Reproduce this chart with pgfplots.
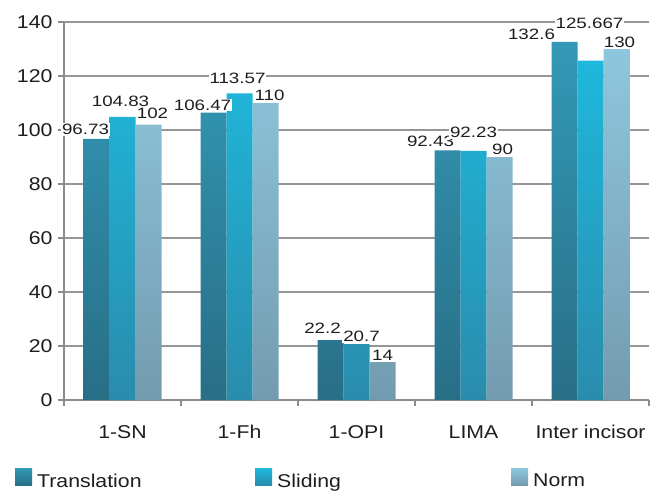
\documentclass[border=0pt]{standalone}
\usepackage{fontspec}
\setmainfont{Liberation Sans}[FakeStretch=1.15]
\newfontfamily\lblfont{Liberation Sans}[FakeStretch=1.25]
\usepackage{pgfplots}
\pgfplotsset{compat=1.18}
\usepackage{pgfplotstable}
\definecolor{tTop}{RGB}{51,153,182}
\definecolor{tBot}{RGB}{40,110,135}
\definecolor{sTop}{RGB}{30,184,220}
\definecolor{sBot}{RGB}{42,140,172}
\definecolor{nTop}{RGB}{142,199,221}
\definecolor{nBot}{RGB}{115,155,175}
\definecolor{axgray}{RGB}{140,140,140}
\definecolor{gridgray}{RGB}{150,150,150}
\definecolor{txt}{RGB}{30,30,30}

\pgfplotstableread{
x y lbl dx dy
0.5 96.73 96.73 -11 3
1.5 106.47 106.47 -11 1
2.5 22.2 22.2 -8 6
3.5 92.43 92.43 -17 3
4.5 132.6 132.6 -33 1
}\transl
\pgfplotstableread{
x y lbl dx dy
0.5 104.83 104.83 -2 9
1.5 113.57 113.57 -2 9
2.5 20.7 20.7 5 1
3.5 92.23 92.23 0 12
4.5 125.667 125.667 -1 31
}\sliding
\pgfplotstableread{
x y lbl dx dy
0.5 102 102 4 5
1.5 110 110 4 1
2.5 14 14 0 1
3.5 90 90 3 1
4.5 130 130 3 0
}\norm

\begin{document}
\begin{tikzpicture}
\useasboundingbox (0,0) rectangle (652pt,491pt);
\begin{axis}[
  at={(64pt,91pt)}, anchor=south west,
  scale only axis, width=585pt, height=378pt,
  xmin=0, xmax=5, ymin=0, ymax=140,
  ybar=0pt, bar width=26pt,
  axis lines*=left,
  axis line style={axgray, line width=1.4pt},
  xtick={0,1,2,3,4,5},
  x tick label as interval,
  xticklabels={1-SN,1-Fh,1-OPI,LIMA,Inter incisor},
  ytick={0,20,...,140},
  tick align=outside,
  major tick length=6pt,
  tick style={axgray, line width=1.4pt},
  ymajorgrids,
  grid style={gridgray, line width=1.6pt},
  /pgf/number format/assume math mode=true,
  ticklabel style={font=\fontsize{18.5}{20}\selectfont, text=txt},
  yticklabel style={xshift=-2pt},
  xticklabel style={yshift=-16pt},
  point meta=explicit symbolic,
  nodes near coords,
  nodes near coords align={vertical},
  every node near coord/.append style={font=\lblfont\fontsize{15}{17}\selectfont, text=txt, fill=white, inner sep=0.8pt, anchor=south, xshift=\dx pt, yshift=\dy pt},
  visualization depends on={\thisrow{dx}\as\dx},
  visualization depends on={\thisrow{dy}\as\dy},
  legend image code/.code={\fill[#1,draw=none] (0pt,-4pt) rectangle (17pt,13pt);},
  legend columns=3,
  legend cell align=left,
  legend style={at={(-0.0838,-0.18)}, anchor=north west, draw=none, fill=none,
    font=\fontsize{18.5}{20}\selectfont, text=txt, inner sep=0pt,
    /tikz/every odd column/.append style={column sep=5pt},
    nodes={inner sep=0pt}},
  clip=false,
]
\addplot[draw=none, top color=tTop, bottom color=tBot] table[x=x,y=y,meta=lbl] {\transl};
\addlegendentry{\makebox[218pt][l]{Translation}}
\addplot[draw=none, top color=sTop, bottom color=sBot] table[x=x,y=y,meta=lbl] {\sliding};
\addlegendentry{\makebox[234pt][l]{Sliding}}
\addplot[draw=none, top color=nTop, bottom color=nBot] table[x=x,y=y,meta=lbl] {\norm};
\addlegendentry{Norm}
\end{axis}
\end{tikzpicture}
\end{document}
